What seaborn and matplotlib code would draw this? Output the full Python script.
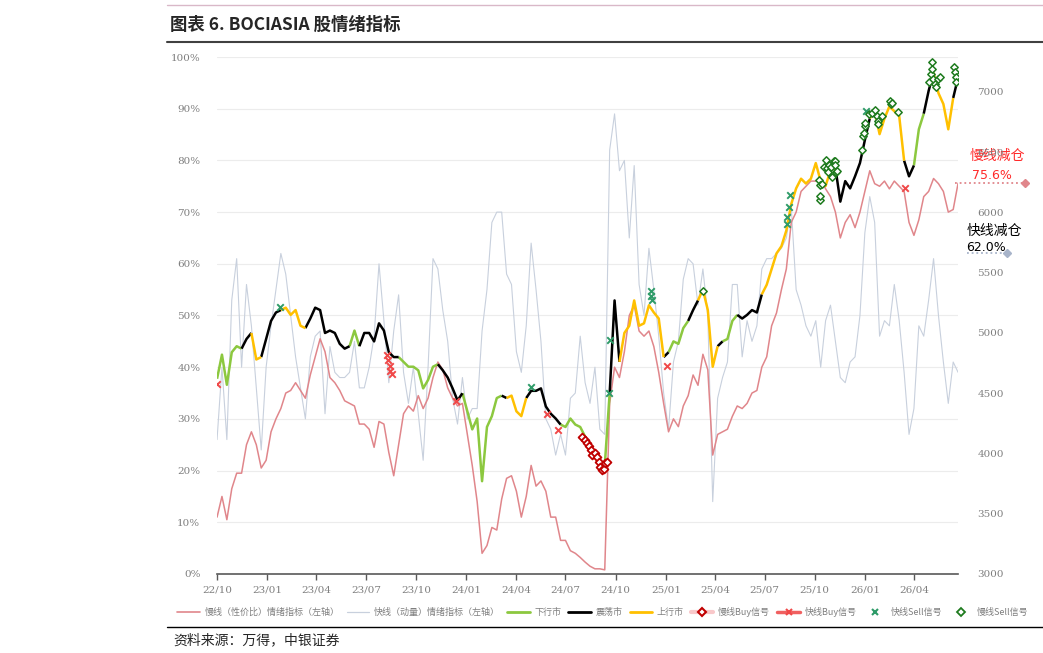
import numpy as np
import pandas as pd
import seaborn as sns
import matplotlib.pyplot as plt
import matplotlib.transforms as mtransforms
from matplotlib.lines import Line2D

# sampled every 9 days from 2022-10-01
dates = pd.date_range('2022-10-01', periods=152, freq='9D')

# slow (valuation) sentiment, % (left axis)
slow_pct = [11, 15, 10.5, 16.5, 19.5, 19.5, 25, 27.5, 25, 20.5, 22, 27.5, 30, 32, 35, 35.5, 37, 35.5, 34, 38.5, 42, 45.5, 43, 38, 37, 35.5,
            33.5, 33, 32.5, 29, 29, 28, 24.5, 29.5, 29, 23.5, 19, 25, 31, 32.5, 31.5, 34.5, 32, 34, 38, 41, 39.5, 36, 34, 32.5, 33,
            27, 21, 14, 4, 5.5, 9, 8.5, 14.5, 18.5, 19, 16, 11, 15, 21, 17, 18, 16, 11, 11, 6.5, 6.5, 4.5, 4, 3.2, 2.3,
            1.5, 1, 1, 0.8, 33, 40, 38, 43, 50, 52, 47, 46, 47, 44, 39, 33, 27.5, 30, 28.5, 32.5, 34.5, 38.5, 36.5, 42.5, 39.5, 23,
            27, 27.5, 28, 30.5, 32.5, 32, 33, 35, 35.5, 40, 42, 48, 50.5, 55, 59, 68, 70, 74, 75, 76, 76, 76.5, 74.5, 73, 70,
            65, 68, 69.5, 67, 70, 74, 78, 75.5, 75, 76, 74.5, 76, 75, 74, 68, 65.5, 68.5, 73, 74, 76.5, 75.5, 74, 70, 70.5, 75.6]

# fast (momentum) sentiment, % (left axis)
fast_pct = [26, 40, 26, 53, 61, 40, 56, 48, 36, 24, 40, 48, 55, 62, 58, 50, 42, 36, 30, 42, 46, 47, 31, 44, 39, 38,
            38, 39, 45, 36, 36, 40, 46, 60, 49, 37, 47, 54, 39, 33, 40, 31, 22, 40, 61, 59, 51, 45, 34, 29, 38,
            30, 32, 32, 47, 55, 68, 70, 70, 58, 56, 43, 39, 48, 64, 55, 45, 30, 28, 23, 27, 23, 34, 35, 46, 37,
            33, 40, 28, 27, 82, 89, 78, 80, 65, 79, 56, 50, 63, 55, 46, 35, 28, 41, 45, 57, 61, 60, 52, 59, 50, 14,
            34, 38, 41, 56, 56, 42, 49, 45, 48, 59, 61, 61, 62, 63, 65, 71, 55, 52, 48, 46, 49, 40, 49, 52, 45,
            38, 37, 41, 42, 50, 66, 73, 68, 46, 49, 48, 56, 49, 39, 27, 32, 48, 46, 53, 61, 50, 41, 33, 41, 39]

# BOCIASIA index (right axis)
price = [4620, 4820, 4570, 4840, 4890, 4870, 4950, 5000, 4780, 4800, 4950, 5100, 5170, 5190, 5210, 5150, 5190, 5060, 5040, 5120,
         5210, 5190, 5000, 5020, 5000, 4910, 4870, 4890, 5020, 4890, 5000, 5000, 4930, 5080, 5020, 4840, 4800, 4800, 4760, 4720,
         4720, 4690, 4540, 4610, 4720, 4740, 4690, 4630, 4540, 4440, 4500, 4350, 4200, 4290, 3770, 4220, 4310, 4460, 4480, 4460,
         4480, 4350, 4310, 4460, 4520, 4520, 4540, 4390, 4330, 4290, 4240, 4220, 4290, 4240, 4220, 4140, 4030, 3970, 3900, 3900,
         4500, 5270, 4760, 5000, 5060, 5270, 5060, 5080, 5230, 5170, 5120, 4800, 4840, 4930, 4910, 5040, 5100, 5190, 5270, 5360,
         5190, 4720, 4890, 4930, 4950, 5100, 5150, 5120, 5150, 5190, 5170, 5320, 5400, 5530, 5660, 5720, 5850, 6070, 6200, 6280,
         6240, 6280, 6410, 6260, 6220, 6350, 6370, 6090, 6260, 6200, 6300, 6410, 6600, 6780, 6840, 6650, 6780, 6880, 6840, 6800,
         6430, 6300, 6390, 6690, 6820, 7010, 7160, 6990, 6900, 6690, 6950, 7120]

# market regime runs
regime_names = ['下行市', '震荡市', '上行市', '震荡市', '上行市', '震荡市', '下行市', '震荡市', '下行市', '震荡市', '下行市',
                '震荡市', '上行市', '震荡市', '下行市', '震荡市', '上行市', '震荡市', '下行市', '震荡市', '上行市', '震荡市',
                '下行市', '震荡市', '上行市', '震荡市', '上行市', '震荡市', '下行市', '震荡市', '上行市', '震荡市']
regime_len = [5, 2, 2, 4, 5, 9, 2, 8, 8, 5, 8, 1, 4, 7, 10, 2, 9, 1, 4, 2, 4, 1, 3, 5, 15, 7, 7, 2, 2, 2, 4, 2]

# signals
fast_buy_dates = ['2022-10-01', '2023-08-09', '2023-08-11', '2023-08-14', '2023-08-15', '2023-08-17', '2023-12-14',
                  '2024-05-29', '2024-06-17', '2025-01-03', '2026-03-15']
fast_buy_vals = [4574, 4815, 4772, 4729, 4686, 4660, 4437, 4326, 4197, 4729, 6200]

fast_sell_dates = ['2023-01-25', '2024-04-28', '2024-09-19', '2024-09-20', '2024-12-04', '2024-12-05', '2024-12-06',
                   '2025-08-11', '2025-08-12', '2025-08-14', '2025-08-17', '2026-01-03']
fast_sell_vals = [5218, 4553, 4506, 4939, 5347, 5308, 5274, 5904, 5960, 6046, 6149, 6844]

slow_buy_dates = ['2024-07-31', '2024-08-05', '2024-08-09', '2024-08-13', '2024-08-16', '2024-08-19', '2024-08-24',
                  '2024-08-28', '2024-08-31', '2024-09-02', '2024-09-06', '2024-09-09', '2024-09-11', '2024-09-15']
slow_buy_vals = [4137, 4115, 4085, 4064, 4030, 3987, 4004, 3974, 3931, 3888, 3862, 3875, 3918, 3931]

slow_sell_dates = ['2025-03-10', '2025-10-08', '2025-10-10', '2025-10-11', '2025-10-11', '2025-10-15', '2025-10-18',
                   '2025-10-21', '2025-10-23', '2025-10-25', '2025-10-28', '2025-10-31', '2025-11-01', '2025-11-05',
                   '2025-11-07', '2025-11-08', '2025-11-10', '2025-11-11', '2025-12-27', '2025-12-28', '2025-12-30',
                   '2026-01-01', '2026-01-02', '2026-01-08', '2026-01-14', '2026-01-19', '2026-01-23', '2026-01-25',
                   '2026-01-26', '2026-02-01', '2026-02-16', '2026-02-18', '2026-02-20', '2026-03-03', '2026-04-29',
                   '2026-05-02', '2026-05-04', '2026-05-05', '2026-05-06', '2026-05-10', '2026-05-11', '2026-05-16',
                   '2026-05-19', '2026-06-14', '2026-06-16', '2026-06-17', '2026-06-18']
slow_sell_vals = [5351, 6269, 6102, 6230, 6136, 6239, 6381, 6436, 6368, 6333, 6393, 6381, 6295, 6428, 6423, 6393, 6338,
                  6346, 6522, 6634, 6659, 6715, 6745, 6814, 6827, 6848, 6801, 6758, 6732, 6801, 6925, 6900, 6912, 6835,
                  7080, 7148, 7191, 7247, 7110, 7067, 7037, 7110, 7123, 7204, 7166, 7123, 7080]

slow_th = 75.6
fast_th = 62.0

tick_labels = ['22/10', '23/01', '23/04', '23/07', '23/10', '24/01', '24/04', '24/07', '24/10',
               '25/01', '25/04', '25/07', '25/10', '26/01', '26/04']

slow_c = '#E0868B'
fast_c = '#C8D0DD'
down_c = '#8CC83F'
up_c = '#FFC000'
grey = '#7F7F7F'

sns.set_theme(style='white')
plt.rcParams['font.family'] = ['Noto Sans CJK SC', 'DejaVu Sans']
plt.rcParams['axes.unicode_minus'] = False

df = pd.DataFrame({'date': dates, 'slow': slow_pct, 'fast': fast_pct, 'price': price,
                   'regime': np.repeat(regime_names, regime_len)})

fig = plt.figure(figsize=(10.43, 6.53), dpi=100)
ax = fig.add_axes([0.2081, 0.121, 0.7105, 0.7917])

sns.lineplot(data=df, x='date', y='fast', ax=ax, color=fast_c, lw=0.8, estimator=None)
sns.lineplot(data=df, x='date', y='slow', ax=ax, color=slow_c, lw=1.1, estimator=None)

ax.set_ylim(0, 100)
ax.set_yticks(range(0, 101, 10))
ax.set_yticklabels([f'{v}%' for v in range(0, 101, 10)], fontfamily='DejaVu Serif')
tick_dates = pd.to_datetime(['20' + t.replace('/', '-') + '-01' for t in tick_labels])
ax.set_xticks(tick_dates)
ax.set_xticklabels(tick_labels, fontfamily='DejaVu Serif')
ax.set_xlim(pd.Timestamp('2022-10-01'), pd.Timestamp('2026-06-21'))
ax.set_xlabel('')
ax.set_ylabel('')
ax.yaxis.grid(True, color='#ECECEC', lw=0.8)
ax.set_axisbelow(True)
for s in ['left', 'right', 'top']:
    ax.spines[s].set_visible(False)
ax.spines['bottom'].set_color('#595959')
ax.spines['bottom'].set_linewidth(1.2)
ax.tick_params(axis='x', direction='out', length=4, width=1, color='#595959', labelsize=7.5,
               labelcolor=grey, pad=4, bottom=True)
ax.tick_params(axis='y', length=0, labelsize=7.5, labelcolor=grey, pad=12)

# index on right axis, coloured by regime
ax2 = ax.twinx()
for name, color in [('下行市', down_c), ('震荡市', 'black'), ('上行市', up_c)]:
    m = df['regime'] == name
    m = m | m.shift(1, fill_value=False)
    ax2.plot(df['date'], df['price'].where(m), color=color, lw=1.8, solid_capstyle='butt')

sns.scatterplot(x=pd.to_datetime(slow_buy_dates), y=slow_buy_vals, ax=ax2, marker='D', s=16,
                facecolor='white', edgecolor='#C00000', linewidth=1.3, zorder=5)
ax2.scatter(pd.to_datetime(fast_buy_dates), fast_buy_vals, marker='x', s=22, color='#F04848', linewidths=1.4, zorder=5)
ax2.scatter(pd.to_datetime(fast_sell_dates), fast_sell_vals, marker='x', s=22, color='#2E9B68', linewidths=1.4, zorder=5)
sns.scatterplot(x=pd.to_datetime(slow_sell_dates), y=slow_sell_vals, ax=ax2, marker='D', s=14,
                facecolor='white', edgecolor='#1E7B1E', linewidth=1.1, zorder=6)

ax2.set_ylim(3000, 7290)
ax2.set_yticks(range(3000, 7001, 500))
ax2.set_yticklabels([str(v) for v in range(3000, 7001, 500)], fontfamily='DejaVu Serif')
ax2.tick_params(axis='y', length=0, labelsize=7.5, labelcolor=grey, pad=14)
ax2.set_ylabel('')
for s in ax2.spines.values():
    s.set_visible(False)

# threshold markers beyond the plot
trans = mtransforms.blended_transform_factory(ax.transAxes, ax.transData)
ax.plot([0.996, 1.09], [slow_th, slow_th], transform=trans, clip_on=False, color=slow_c,
        ls=(0, (1, 1.6)), lw=1.3, marker='D', markevery=[1], ms=4)
ax.plot([1.012, 1.066], [fast_th, fast_th], transform=trans, clip_on=False, color='#A8B4CA',
        ls=(0, (1, 1.6)), lw=1.3, marker='D', markevery=[1], ms=4)
ax.text(1.016, slow_th + 4.4, '慢线减仓', transform=trans, color='#FF2A2A', fontsize=10, va='baseline')
ax.text(1.019, slow_th + 0.8, f'{slow_th:.1f}%', transform=trans, color='#FF2A2A', fontsize=9,
        va='baseline', family='DejaVu Sans')
ax.text(1.012, fast_th + 3.6, '快线减仓', transform=trans, color='black', fontsize=10, va='baseline')
ax.text(1.011, fast_th + 0.4, f'{fast_th:.1f}%', transform=trans, color='black', fontsize=9,
        va='baseline', family='DejaVu Sans')

# legend
handles = [
    Line2D([], [], color=slow_c, lw=1.2),
    Line2D([], [], color=fast_c, lw=0.9),
    Line2D([], [], color=down_c, lw=2),
    Line2D([], [], color='black', lw=2),
    Line2D([], [], color=up_c, lw=2),
    Line2D([], [], color='#F9C8CA', lw=3, marker='D', ms=4, mfc='white', mec='#C00000', mew=1.5),
    Line2D([], [], color='#F06060', lw=2.5, marker='x', ms=5, mec='#F04848', mew=1.5),
    Line2D([], [], ls='none', marker='x', ms=5, mec='#2E9B68', mew=1.5),
    Line2D([], [], ls='none', marker='D', ms=4, mfc='white', mec='#1E7B1E', mew=1.3),
]
labels = ['慢线（性价比）情绪指标（左轴）', '快线（动量）情绪指标（左轴）', '下行市', '震荡市', '上行市',
          '慢线Buy信号', '快线Buy信号', '快线Sell信号', '慢线Sell信号']
fig.legend(handles, labels, loc='center', bbox_to_anchor=(0.578, 0.063), ncol=9, frameon=False,
           fontsize=6.5, labelcolor=grey, handlelength=2.5, columnspacing=0.8, handletextpad=0.5)

# header / footer
fig.add_artist(Line2D([0.16, 1.0], [0.992, 0.992], transform=fig.transFigure, color='#D9B8C8', lw=1))
fig.add_artist(Line2D([0.16, 1.0], [0.936, 0.936], transform=fig.transFigure, color='#404040', lw=1.5))
fig.add_artist(Line2D([0.16, 1.0], [0.040, 0.040], transform=fig.transFigure, color='black', lw=1))
fig.text(0.163, 0.962, '图表 6. BOCIASIA 股情绪指标', fontsize=12.5, fontweight='bold', va='center')
fig.text(0.166, 0.019, '资料来源：万得，中银证券', fontsize=10, va='center', style='italic')

fig.savefig('out.png', dpi=100)
